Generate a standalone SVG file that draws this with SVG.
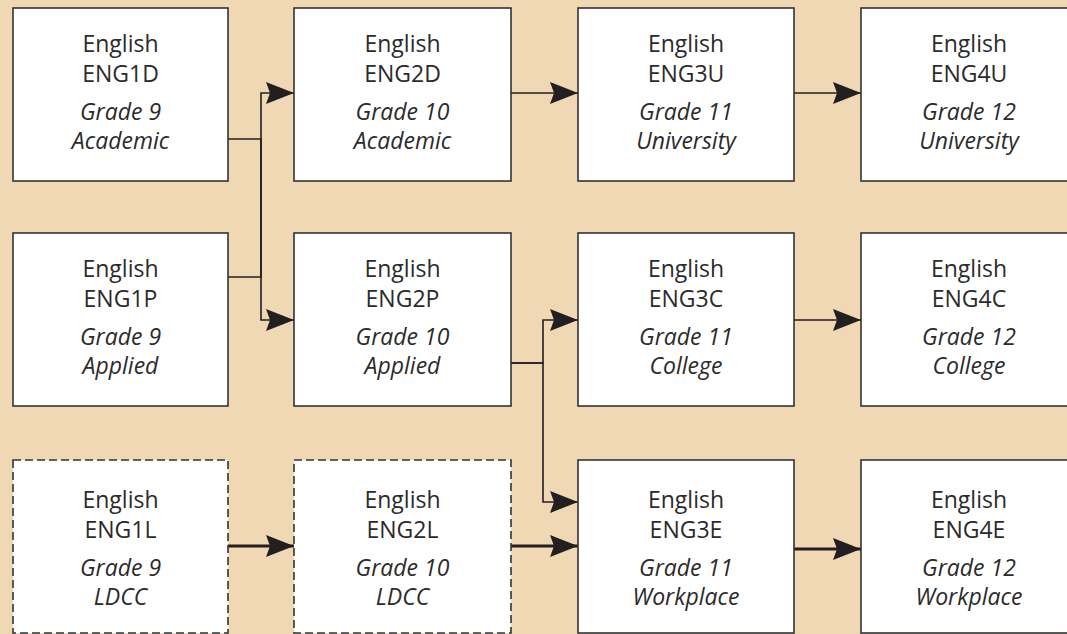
<svg xmlns="http://www.w3.org/2000/svg" width="1067" height="634" viewBox="0 0 1067 634">
<defs>
<style>
.box{fill:#fff;stroke:#333;stroke-width:1.6}
.dash{stroke-dasharray:8 4}
.t{font-family:"Open Sans","Noto Sans",sans-serif;font-size:23px;fill:#2b2b2b;text-anchor:middle}
.i{font-style:italic}
.c{fill:none;stroke:#231f20;stroke-width:1.6}
.k{stroke-width:2.8}
</style>
<marker id="ah" markerUnits="userSpaceOnUse" markerWidth="28" markerHeight="22" viewBox="0 0 28 22" refX="28" refY="11" orient="auto">
<path d="M0,0 L28,11 L0,22 L4,11 z" fill="#231f20"/>
</marker>
</defs>
<rect width="1067" height="634" fill="#F0D8B5"/>
<g id="connectors">
<path class="c" d="M228,139 H261 V320 H294" marker-end="url(#ah)"/>
<path class="c" d="M228,277 H261 V93 H294" marker-end="url(#ah)"/>
<path class="c" d="M511,93 H578" marker-end="url(#ah)"/>
<path class="c" d="M794,93 H861" marker-end="url(#ah)"/>
<path class="c" d="M511,363 H543 V320 H578" marker-end="url(#ah)"/>
<path class="c" d="M511,363 H543 V502 H578" marker-end="url(#ah)"/>
<path class="c" d="M794,320 H861" marker-end="url(#ah)"/>
<path class="c k" d="M228,546 H294" marker-end="url(#ah)"/>
<path class="c k" d="M511,546 H578" marker-end="url(#ah)"/>
<path class="c k" d="M794,549 H861" marker-end="url(#ah)"/>
</g>
<g id="ENG1D"><rect class="box" x="13" y="8" width="215" height="173"/>
<text class="t" x="120.5" y="52">English</text><text class="t" x="120.5" y="82">ENG1D</text>
<text class="t i" x="120.5" y="120">Grade 9</text><text class="t i" x="120.5" y="149">Academic</text></g>
<g id="ENG2D"><rect class="box" x="294" y="8" width="217" height="173"/>
<text class="t" x="402.5" y="52">English</text><text class="t" x="402.5" y="82">ENG2D</text>
<text class="t i" x="402.5" y="120">Grade 10</text><text class="t i" x="402.5" y="149">Academic</text></g>
<g id="ENG3U"><rect class="box" x="578" y="8" width="216" height="173"/>
<text class="t" x="686" y="52">English</text><text class="t" x="686" y="82">ENG3U</text>
<text class="t i" x="686" y="120">Grade 11</text><text class="t i" x="686" y="149">University</text></g>
<g id="ENG4U"><rect class="box" x="861" y="8" width="220" height="173"/>
<text class="t" x="969" y="52">English</text><text class="t" x="969" y="82">ENG4U</text>
<text class="t i" x="969" y="120">Grade 12</text><text class="t i" x="969" y="149">University</text></g>
<g id="ENG1P"><rect class="box" x="13" y="233" width="215" height="173"/>
<text class="t" x="120.5" y="277">English</text><text class="t" x="120.5" y="307">ENG1P</text>
<text class="t i" x="120.5" y="345">Grade 9</text><text class="t i" x="120.5" y="374">Applied</text></g>
<g id="ENG2P"><rect class="box" x="294" y="233" width="217" height="173"/>
<text class="t" x="402.5" y="277">English</text><text class="t" x="402.5" y="307">ENG2P</text>
<text class="t i" x="402.5" y="345">Grade 10</text><text class="t i" x="402.5" y="374">Applied</text></g>
<g id="ENG3C"><rect class="box" x="578" y="233" width="216" height="173"/>
<text class="t" x="686" y="277">English</text><text class="t" x="686" y="307">ENG3C</text>
<text class="t i" x="686" y="345">Grade 11</text><text class="t i" x="686" y="374">College</text></g>
<g id="ENG4C"><rect class="box" x="861" y="233" width="220" height="173"/>
<text class="t" x="969" y="277">English</text><text class="t" x="969" y="307">ENG4C</text>
<text class="t i" x="969" y="345">Grade 12</text><text class="t i" x="969" y="374">College</text></g>
<g id="ENG1L"><rect class="box dash" x="13" y="460" width="215" height="173"/>
<text class="t" x="120.5" y="508">English</text><text class="t" x="120.5" y="538">ENG1L</text>
<text class="t i" x="120.5" y="576">Grade 9</text><text class="t i" x="120.5" y="605">LDCC</text></g>
<g id="ENG2L"><rect class="box dash" x="294" y="460" width="217" height="173"/>
<text class="t" x="402.5" y="508">English</text><text class="t" x="402.5" y="538">ENG2L</text>
<text class="t i" x="402.5" y="576">Grade 10</text><text class="t i" x="402.5" y="605">LDCC</text></g>
<g id="ENG3E"><rect class="box" x="578" y="460" width="216" height="173"/>
<text class="t" x="686" y="508">English</text><text class="t" x="686" y="538">ENG3E</text>
<text class="t i" x="686" y="576">Grade 11</text><text class="t i" x="686" y="605">Workplace</text></g>
<g id="ENG4E"><rect class="box" x="861" y="460" width="220" height="173"/>
<text class="t" x="969" y="508">English</text><text class="t" x="969" y="538">ENG4E</text>
<text class="t i" x="969" y="576">Grade 12</text><text class="t i" x="969" y="605">Workplace</text></g>
</svg>
